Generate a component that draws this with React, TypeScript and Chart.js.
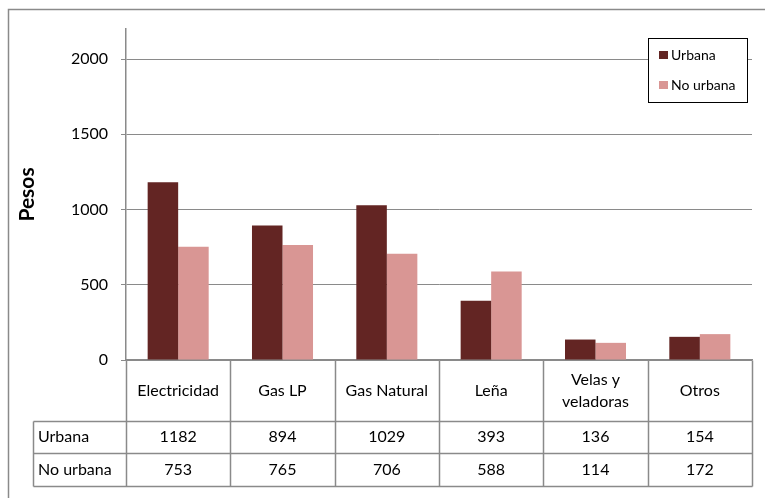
import React, { useEffect, useRef } from 'react';
import { Chart, registerables } from 'chart.js';

Chart.register(...registerables);

const categories: string[][] = [['Electricidad'], ['Gas LP'], ['Gas Natural'], ['Leña'], ['Velas y', 'veladoras'], ['Otros']];
const urbana = [1182, 894, 1029, 393, 136, 154];
const noUrbana = [753, 765, 706, 588, 114, 172];
const seriesNames = ['Urbana', 'No urbana'];
const seriesColors = ['#632523', '#D99694'];
const yTicks = [0, 500, 1000, 1500, 2000];
const yTitle = 'Pesos';
const yMax = 2200;

const FONT = 'Lato, Calibri, Carlito, sans-serif';
const GRID = '#8a8a8a';

const framePlugin = {
  id: 'frame',
  beforeDraw(chart: any) {
    const ctx = chart.ctx;
    ctx.save();
    ctx.fillStyle = '#ffffff';
    ctx.fillRect(0, 0, chart.width, chart.height);
    ctx.strokeStyle = GRID;
    ctx.lineWidth = 1.5;
    ctx.strokeRect(8.5, 9.5, 2000, 2000);
    ctx.restore();
  },
};

const tablePlugin = {
  id: 'dataTable',
  afterDraw(chart: any) {
    const ctx = chart.ctx;
    const xs = chart.scales.x;
    const { bottom, right } = chart.chartArea;
    const n = categories.length;
    const colW = xs.getPixelForValue(1) - xs.getPixelForValue(0);
    const edge = (i: number) => Math.round(xs.getPixelForValue(i) - colW / 2) + 0.5;
    const headerBottom = bottom + 61;
    const r1 = headerBottom + 32;
    const r2 = r1 + 33;
    const labelLeft = 33.5;
    const rows = [urbana, noUrbana];

    ctx.save();
    ctx.strokeStyle = GRID;
    ctx.lineWidth = 1.5;
    ctx.beginPath();
    for (let i = 0; i <= n; i++) {
      const xx = i === n ? Math.round(right) + 0.5 : edge(i);
      ctx.moveTo(xx, Math.round(bottom) + 0.5);
      ctx.lineTo(xx, Math.round(r2) + 0.5);
    }
    ctx.moveTo(labelLeft, Math.round(headerBottom) + 0.5);
    ctx.lineTo(labelLeft, Math.round(r2) + 0.5);
    for (const yy of [headerBottom, r1, r2]) {
      ctx.moveTo(labelLeft, Math.round(yy) + 0.5);
      ctx.lineTo(Math.round(right) + 0.5, Math.round(yy) + 0.5);
    }
    ctx.stroke();

    ctx.fillStyle = '#000';
    ctx.font = `16px ${FONT}`;
    ctx.textBaseline = 'middle';
    ctx.textAlign = 'center';
    categories.forEach((lines, i) => {
      const cx = xs.getPixelForValue(i);
      const cy = (bottom + headerBottom) / 2;
      const lh = 22;
      lines.forEach((t, k) => {
        ctx.fillText(t, cx, cy + (k - (lines.length - 1) / 2) * lh);
      });
    });
    const rowBounds = [[headerBottom, r1], [r1, r2]];
    rows.forEach((vals, ri) => {
      const cy = (rowBounds[ri][0] + rowBounds[ri][1]) / 2;
      ctx.textAlign = 'left';
      ctx.fillText(seriesNames[ri], labelLeft + 4.5, cy);
      ctx.textAlign = 'center';
      vals.forEach((v, i) => {
        ctx.fillText(String(v), xs.getPixelForValue(i), cy);
      });
    });
    ctx.restore();
  },
};

const legendPlugin = {
  id: 'boxLegend',
  afterDraw(chart: any) {
    const ctx = chart.ctx;
    const bx = 648.5, by = 38.5, bw = 99, bh = 64;
    ctx.save();
    ctx.fillStyle = '#fff';
    ctx.fillRect(bx, by, bw, bh);
    ctx.strokeStyle = '#000';
    ctx.lineWidth = 1;
    ctx.strokeRect(bx, by, bw, bh);
    ctx.font = `14px ${FONT}`;
    ctx.textBaseline = 'middle';
    ctx.textAlign = 'left';
    chart.data.datasets.forEach((ds: any, i: number) => {
      const cy = 55 + i * 30;
      ctx.fillStyle = ds.backgroundColor;
      ctx.fillRect(659, cy - 4, 9, 8);
      ctx.fillStyle = '#000';
      ctx.fillText(ds.label, 671, cy);
    });
    ctx.restore();
  },
};

export default function App() {
  const ref = useRef<HTMLCanvasElement>(null);
  useEffect(() => {
    if (!ref.current) return;
    const chart = new Chart(ref.current, {
      type: 'bar',
      data: {
        labels: categories.map((c) => c.join(' ')),
        datasets: [
          { label: seriesNames[0], data: urbana, backgroundColor: seriesColors[0], categoryPercentage: 0.585, barPercentage: 1 },
          { label: seriesNames[1], data: noUrbana, backgroundColor: seriesColors[1], categoryPercentage: 0.585, barPercentage: 1 },
        ],
      },
      options: {
        responsive: false,
        animation: false,
        devicePixelRatio: 1,
        layout: { padding: { left: 0, top: 29, right: 13, bottom: 12 } },
        plugins: { legend: { display: false }, tooltip: { enabled: false }, title: { display: false } },
        scales: {
          x: {
            grid: { display: false },
            border: { display: true, color: GRID, width: 1.5 },
            ticks: { display: false },
            afterFit: (s: any) => { s.height = 126; },
          },
          y: {
            min: 0,
            max: yMax,
            grid: { color: GRID, lineWidth: 1, tickLength: 5, drawTicks: true },
            border: { display: true, color: GRID, width: 1.5 },
            afterBuildTicks: (s: any) => { s.ticks = yTicks.map((v) => ({ value: v })); },
            ticks: { color: '#000', padding: 13, font: { family: FONT, size: 16 }, callback: (v: any) => String(v) },
            title: { display: true, text: yTitle, color: '#000', padding: { top: 15, bottom: 0 }, font: { family: FONT, size: 21, weight: 'bold' } },
            afterFit: (s: any) => { s.width = 126; },
          },
        },
      },
      plugins: [framePlugin, tablePlugin, legendPlugin],
    });
    return () => chart.destroy();
  }, []);
  return (
    <div style={{ position: 'absolute', left: 0, top: 0, width: 765, height: 498, overflow: 'hidden' }}>
      <canvas ref={ref} width={765} height={498} style={{ display: 'block', width: 765, height: 498 }} />
    </div>
  );
}
